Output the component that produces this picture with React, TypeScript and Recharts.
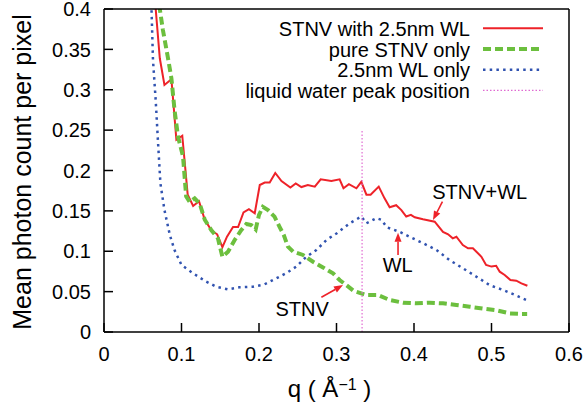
import React from "react";
import { LineChart, Line, XAxis, YAxis, Legend, ReferenceLine, ReferenceDot } from "recharts";

// STNV with 2.5nm WL
const qRed = [0.065, 0.0667, 0.072, 0.078, 0.087, 0.0934, 0.101, 0.108, 0.115, 0.1226, 0.13, 0.1386, 0.146, 0.1528, 0.1587, 0.1665, 0.173, 0.18, 0.187, 0.1945, 0.201, 0.2074, 0.2138, 0.221, 0.229, 0.2405, 0.2474, 0.2547, 0.263, 0.272, 0.2796, 0.2934, 0.304, 0.309, 0.316, 0.3257, 0.332, 0.3386, 0.344, 0.3545, 0.362, 0.3686, 0.377, 0.3837, 0.39, 0.396, 0.401, 0.4116, 0.4267, 0.4374, 0.444, 0.45, 0.4547, 0.463, 0.4697, 0.476, 0.487, 0.493, 0.5, 0.506, 0.5106, 0.517, 0.5244, 0.532, 0.5386, 0.5463];
const vRed = [0.43, 0.4, 0.339, 0.306, 0.313, 0.238, 0.243, 0.17, 0.156, 0.162, 0.139, 0.126, 0.121, 0.105, 0.118, 0.13, 0.13, 0.148, 0.152, 0.147, 0.182, 0.185, 0.185, 0.197, 0.187, 0.179, 0.184, 0.1795, 0.182, 0.18, 0.189, 0.187, 0.189, 0.178, 0.183, 0.178, 0.186, 0.17, 0.17, 0.18, 0.1655, 0.1545, 0.157, 0.151, 0.143, 0.145, 0.142, 0.1396, 0.1366, 0.124, 0.121, 0.116, 0.118, 0.1077, 0.1037, 0.1037, 0.0932, 0.083, 0.081, 0.082, 0.0747, 0.0706, 0.0644, 0.0635, 0.0603, 0.0573];

// pure STNV only
const qGreen = [0.07, 0.072, 0.076, 0.0826, 0.087, 0.091, 0.0955, 0.102, 0.106, 0.1106, 0.117, 0.1235, 0.13, 0.1386, 0.147, 0.1528, 0.16, 0.1686, 0.177, 0.1837, 0.19, 0.1957, 0.2, 0.205, 0.2116, 0.22, 0.2267, 0.232, 0.2374, 0.244, 0.2568, 0.2697, 0.2826, 0.2955, 0.304, 0.3128, 0.322, 0.3386, 0.3535, 0.3686, 0.386, 0.403, 0.42, 0.4374, 0.4547, 0.472, 0.489, 0.506, 0.5235, 0.5386, 0.546];
const vGreen = [0.42, 0.4, 0.374, 0.339, 0.314, 0.275, 0.242, 0.217, 0.168, 0.161, 0.1655, 0.159, 0.139, 0.126, 0.116, 0.093, 0.0995, 0.114, 0.126, 0.1337, 0.1325, 0.127, 0.145, 0.155, 0.151, 0.1428, 0.13, 0.12, 0.1056, 0.0995, 0.0954, 0.087, 0.08, 0.0727, 0.0644, 0.058, 0.051, 0.0458, 0.0458, 0.0396, 0.0363, 0.0355, 0.0363, 0.0355, 0.0334, 0.0313, 0.029, 0.027, 0.023, 0.0223, 0.0223];

// 2.5nm WL only
const qBlue = [0.06, 0.0613, 0.0632, 0.0667, 0.0697, 0.0728, 0.078, 0.085, 0.091, 0.1, 0.115, 0.132, 0.145, 0.16, 0.175, 0.192, 0.207, 0.2224, 0.235, 0.248, 0.261, 0.274, 0.287, 0.3, 0.317, 0.332, 0.3385, 0.3515, 0.358, 0.365, 0.3815, 0.394, 0.4116, 0.429, 0.446, 0.463, 0.4805, 0.4977, 0.515, 0.53, 0.545];
const vBlue = [0.44, 0.4, 0.337, 0.287, 0.235, 0.184, 0.151, 0.12, 0.1015, 0.083, 0.0727, 0.0623, 0.056, 0.0528, 0.0553, 0.056, 0.059, 0.0665, 0.0727, 0.081, 0.093, 0.1015, 0.114, 0.122, 0.1346, 0.143, 0.1346, 0.141, 0.139, 0.1296, 0.124, 0.118, 0.11, 0.1015, 0.089, 0.079, 0.0685, 0.058, 0.052, 0.046, 0.0396];

// liquid water peak position
const qWater = [0.333, 0.333];
const vWater = [0, 0.25];

const xTicks = [0, 0.1, 0.2, 0.3, 0.4, 0.5, 0.6];
const yTicks = [0, 0.05, 0.1, 0.15, 0.2, 0.25, 0.3, 0.35, 0.4];

// annotation labels and arrows: [q, value]
const noteText = ["STNV+WL", "WL", "STNV"];
const notePos = [[0.4848, 0.174], [0.379, 0.0833], [0.2557, 0.0285]];
const arrowFrom = [[0.4367, 0.1614], [0.3794, 0.0954], [0.2805, 0.043]];
const arrowTo = [[0.4245, 0.1387], [0.3794, 0.123], [0.3084, 0.0582]];

const toPoints = (qs: number[], vs: number[]) => qs.map((q, i) => ({ q, v: vs[i] }));

const series = [
  { name: "STNV with 2.5nm WL", color: "#ee2229", width: 2, dash: undefined, data: toPoints(qRed, vRed) },
  { name: "pure STNV only", color: "#6cbf3e", width: 4, dash: "8 4", data: toPoints(qGreen, vGreen) },
  { name: "2.5nm WL only", color: "#3153b0", width: 2.5, dash: "2.5 4.2", data: toPoints(qBlue, vBlue) },
  { name: "liquid water peak position", color: "#e06ad2", width: 1.2, dash: "1.5 2", data: toPoints(qWater, vWater) },
];

const FONT = "'Liberation Sans', Arial, Helvetica, sans-serif";
const TICK = 9;

const BottomTick = ({ x, y, payload }: any) => (
  <g>
    <line x1={x} y1={y} x2={x} y2={y - TICK} stroke="#000" strokeWidth={1.5} />
    <text x={x} y={y + 29} textAnchor="middle" fontSize={20} fill="#000">
      {payload.value}
    </text>
  </g>
);

const LeftTick = ({ x, y, payload }: any) => (
  <g>
    <line x1={x} y1={y} x2={x + TICK} y2={y} stroke="#000" strokeWidth={1.5} />
    <text x={x - 13} y={y} dy="0.36em" textAnchor="end" fontSize={20} fill="#000">
      {payload.value}
    </text>
  </g>
);

const Arrow = (p: any) => {
  const { x1, y1, x2, y2 } = p;
  const a = Math.atan2(y2 - y1, x2 - x1);
  const len = 9;
  const hw = 3.5;
  const bx = x2 - len * Math.cos(a);
  const by = y2 - len * Math.sin(a);
  const nx = -Math.sin(a) * hw;
  const ny = Math.cos(a) * hw;
  return (
    <g>
      <line x1={x1} y1={y1} x2={bx} y2={by} stroke="#ee2229" strokeWidth={1.6} />
      <polygon points={`${x2},${y2} ${bx + nx},${by + ny} ${bx - nx},${by - ny}`} fill="#ee2229" />
    </g>
  );
};

const LegendBox = () => (
  <svg width={360} height={90} style={{ fontFamily: FONT, display: "block" }}>
    {series.map((s, i) => (
      <g key={s.name}>
        <text x={270} y={18 + 20.7 * i} textAnchor="end" fontSize={20} fill="#000">
          {s.name}
        </text>
        <line
          x1={283}
          x2={343}
          y1={10.3 + 20.7 * i}
          y2={10.3 + 20.7 * i}
          stroke={s.color}
          strokeWidth={s.width}
          strokeDasharray={s.dash}
        />
      </g>
    ))}
  </svg>
);

export default function App() {
  return (
    <div style={{ position: "absolute", left: 0, top: 0, width: 585, height: 409, background: "#fff", fontFamily: FONT }}>
      <LineChart width={585} height={409} margin={{ top: 9, right: 16, bottom: 47, left: 44 }}>
        <XAxis
          xAxisId="b"
          type="number"
          dataKey="q"
          domain={[0, 0.6]}
          ticks={xTicks}
          interval={0}
          allowDataOverflow
          height={30}
          tickSize={0}
          tickMargin={0}
          tickLine={false}
          tick={<BottomTick />}
          axisLine={{ stroke: "#000", strokeWidth: 1.5 }}
          label={{
            content: ({ viewBox }: any) => (
              <text x={viewBox.x + viewBox.width / 2 - 7} y={397} textAnchor="middle" fontSize={24} fill="#000">
                q ( Å
                <tspan dy={-7} fontSize={16}>
                  −1
                </tspan>
                <tspan dy={7}> )</tspan>
              </text>
            ),
          }}
        />
        <XAxis
          xAxisId="top"
          orientation="top"
          type="number"
          dataKey="q"
          domain={[0, 0.6]}
          ticks={xTicks}
          interval={0}
          allowDataOverflow
          mirror
          tick={false}
          tickSize={TICK}
          tickLine={{ stroke: "#000", strokeWidth: 1.5 }}
          axisLine={{ stroke: "#000", strokeWidth: 1.5 }}
        />
        <YAxis
          yAxisId="l"
          type="number"
          domain={[0, 0.4]}
          ticks={yTicks}
          interval={0}
          allowDataOverflow
          width={60}
          tickSize={0}
          tickMargin={0}
          tickLine={false}
          tick={<LeftTick />}
          axisLine={{ stroke: "#000", strokeWidth: 1.5 }}
          label={{
            content: () => (
              <text x={31} y={172} transform="rotate(-90, 31, 172)" textAnchor="middle" fontSize={25} fill="#000">
                Mean photon count per pixel
              </text>
            ),
          }}
        />
        <YAxis
          yAxisId="r"
          orientation="right"
          type="number"
          domain={[0, 0.4]}
          ticks={yTicks}
          interval={0}
          allowDataOverflow
          mirror
          tick={false}
          tickSize={TICK}
          tickLine={{ stroke: "#000", strokeWidth: 1.5 }}
          axisLine={{ stroke: "#000", strokeWidth: 1.5 }}
        />
        {series.map((s) => (
          <Line
            key={s.name}
            xAxisId="b"
            yAxisId="l"
            data={s.data}
            dataKey="v"
            name={s.name}
            type="linear"
            stroke={s.color}
            strokeWidth={s.width}
            strokeDasharray={s.dash}
            dot={false}
            activeDot={false}
            isAnimationActive={false}
          />
        ))}
        {arrowFrom.map((f, i) => (
          <ReferenceLine
            key={`arrow-${i}`}
            xAxisId="b"
            yAxisId="l"
            segment={[
              { x: f[0], y: f[1] },
              { x: arrowTo[i][0], y: arrowTo[i][1] },
            ]}
            shape={Arrow}
          />
        ))}
        {noteText.map((t, i) => (
          <ReferenceDot
            key={t}
            xAxisId="b"
            yAxisId="l"
            x={notePos[i][0]}
            y={notePos[i][1]}
            r={0}
            stroke="none"
            fill="none"
            label={{ value: t, position: "center", fontSize: 20, fill: "#000" }}
          />
        ))}
        <Legend
          layout="vertical"
          align="center"
          verticalAlign="middle"
          wrapperStyle={{ left: 200, top: 18, width: 360, height: 90 }}
          content={() => <LegendBox />}
        />
      </LineChart>
    </div>
  );
}
